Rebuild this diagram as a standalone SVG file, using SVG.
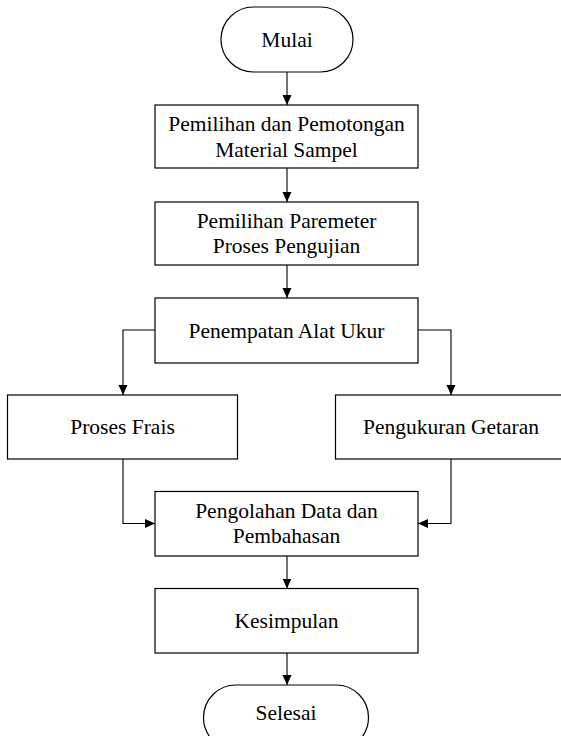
<svg xmlns="http://www.w3.org/2000/svg" width="561" height="736" viewBox="0 0 561 736">
<style>
.box{fill:#fff;stroke:#000;stroke-width:1.2}
.lbl{font-family:"Liberation Serif","Times New Roman",serif;font-size:21.5px;fill:#000;text-anchor:middle}
.con{fill:none;stroke:#000;stroke-width:1.1}
</style>
<defs>
<marker id="ah" markerUnits="userSpaceOnUse" markerWidth="10" markerHeight="10" refX="10" refY="4.5" orient="auto">
<path d="M0,0 L10,4.5 L0,9 z" fill="#000"/>
</marker>
</defs>
<rect width="561" height="736" fill="#fff"/>
<g id="connectors">
<path class="con" d="M287,72 V105" marker-end="url(#ah)"/>
<path class="con" d="M287,168 V202" marker-end="url(#ah)"/>
<path class="con" d="M287,265 V298" marker-end="url(#ah)"/>
<path class="con" d="M155,330 H123 V395" marker-end="url(#ah)"/>
<path class="con" d="M418,330 H451 V395" marker-end="url(#ah)"/>
<path class="con" d="M123,459 V523.5 H155" marker-end="url(#ah)"/>
<path class="con" d="M451,459 V523.5 H418" marker-end="url(#ah)"/>
<path class="con" d="M287,556 V588.5" marker-end="url(#ah)"/>
<path class="con" d="M287,653 V685" marker-end="url(#ah)"/>
</g>
<g id="mulai">
<rect class="box" x="221" y="7" width="132" height="65" rx="32.5" ry="32.5"/>
<text class="lbl" x="287" y="47.3">Mulai</text>
</g>
<g id="pemilihan-pemotongan">
<rect class="box" x="155" y="105" width="263" height="63"/>
<text class="lbl" x="286.5" y="131">Pemilihan dan Pemotongan</text>
<text class="lbl" x="286.5" y="156.5">Material Sampel</text>
</g>
<g id="pemilihan-parameter">
<rect class="box" x="155" y="202" width="263" height="63"/>
<text class="lbl" x="286.5" y="227.5">Pemilihan Paremeter</text>
<text class="lbl" x="286.5" y="252.5">Proses Pengujian</text>
</g>
<g id="penempatan">
<rect class="box" x="155" y="298" width="263" height="65"/>
<text class="lbl" x="286.5" y="338.3">Penempatan Alat Ukur</text>
</g>
<g id="proses-frais">
<rect class="box" x="7.5" y="395" width="230" height="64"/>
<text class="lbl" x="122.5" y="434">Proses Frais</text>
</g>
<g id="pengukuran-getaran">
<rect class="box" x="335.5" y="395" width="231" height="64"/>
<text class="lbl" x="451" y="434">Pengukuran Getaran</text>
</g>
<g id="pengolahan">
<rect class="box" x="155" y="491.5" width="263" height="64.5"/>
<text class="lbl" x="286.5" y="517.7">Pengolahan Data dan</text>
<text class="lbl" x="286.5" y="542.7">Pembahasan</text>
</g>
<g id="kesimpulan">
<rect class="box" x="155" y="588.5" width="263" height="64.5"/>
<text class="lbl" x="286.5" y="627.5">Kesimpulan</text>
</g>
<g id="selesai">
<rect class="box" x="203.5" y="685" width="165" height="65" rx="32.5" ry="32.5"/>
<text class="lbl" x="286" y="720">Selesai</text>
</g>
</svg>
